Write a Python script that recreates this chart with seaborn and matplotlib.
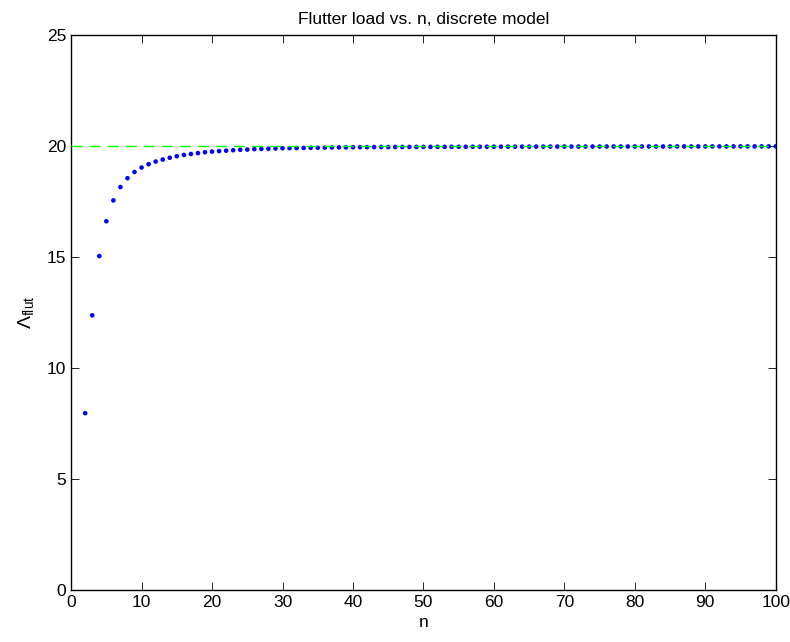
import matplotlib
matplotlib.use("Agg")
import matplotlib.pyplot as plt
import seaborn as sns
import numpy as np
import pandas as pd

# number of elements n and the flutter load
n_values = list(range(2, 101))
lambda_flut = [
    7.97, 12.38, 15.05, 16.62, 17.56, 18.16, 18.56, 18.84, 19.04,          # n = 2..10
    19.19, 19.31, 19.40, 19.48, 19.55, 19.61, 19.65, 19.69, 19.73, 19.76,  # 11..20
    19.78, 19.80, 19.82, 19.84, 19.85, 19.87, 19.88, 19.89, 19.90, 19.91,  # 21..30
    19.915, 19.92, 19.925, 19.93, 19.935, 19.94, 19.945, 19.95, 19.95, 19.955,  # 31..40
    19.957, 19.96, 19.962, 19.964, 19.965, 19.967, 19.968, 19.969, 19.97, 19.971,  # 41..50
    19.972, 19.973, 19.974, 19.975, 19.976, 19.977, 19.977, 19.978, 19.979, 19.98,  # 51..60
    19.98, 19.981, 19.981, 19.982, 19.983, 19.983, 19.984, 19.984, 19.985, 19.985,  # 61..70
    19.986, 19.986, 19.987, 19.987, 19.987, 19.988, 19.988, 19.988, 19.989, 19.989,  # 71..80
    19.989, 19.99, 19.99, 19.99, 19.99, 19.991, 19.991, 19.991, 19.991, 19.992,  # 81..90
    19.992, 19.992, 19.992, 19.993, 19.993, 19.993, 19.993, 19.993, 19.994, 19.994,  # 91..100
]

# continuous model limit (dashed line)
limit_x = [0, 100]
limit_y = [20, 20]

x_ticks = list(range(0, 101, 10))
y_ticks = list(range(0, 26, 5))

sns.set_style("ticks")
plt.rcParams['font.family'] = ['Liberation Sans', 'DejaVu Sans']
plt.rcParams['mathtext.fontset'] = 'custom'
plt.rcParams['mathtext.rm'] = 'Liberation Sans'
plt.rcParams['mathtext.it'] = 'Liberation Sans'
plt.rcParams['text.color'] = 'black'
plt.rcParams['axes.labelcolor'] = 'black'
plt.rcParams['xtick.color'] = 'black'
plt.rcParams['ytick.color'] = 'black'

fig = plt.figure(figsize=(7.9, 6.42), dpi=100)
ax = fig.add_axes([0.090, 0.081, 0.892, 0.864])

points = pd.DataFrame({'n': n_values, 'lam': lambda_flut})
sns.scatterplot(data=points, x='n', y='lam', ax=ax, color='#0000ff',
                s=11, edgecolor='none', linewidth=0, zorder=2)

line = pd.DataFrame({'x': limit_x, 'y': limit_y})
sns.lineplot(data=line, x='x', y='y', ax=ax, color='#00ff00', linewidth=1,
             zorder=3)
ax.lines[-1].set_dashes([8, 5])

ax.set_xlim(0, 100)
ax.set_ylim(0, 25)
ax.set_xticks(x_ticks)
ax.set_yticks(y_ticks)

ax.tick_params(direction='in', length=6, width=0.6, labelsize=12.5,
               top=True, right=True, colors='black', labelcolor='black')
for s in ax.spines.values():
    s.set_visible(True)
    s.set_linewidth(1.0)
    s.set_color('black')

ax.set_xlabel('n', fontsize=12.5, labelpad=4, color='black')
ax.set_ylabel(r'$\Lambda_{\mathrm{flut}}$', fontsize=14, labelpad=8, color='black')
ax.set_title('Flutter load vs. n, discrete model', fontsize=12.5, pad=8, color='black')

fig.savefig('out.png', dpi=100)
